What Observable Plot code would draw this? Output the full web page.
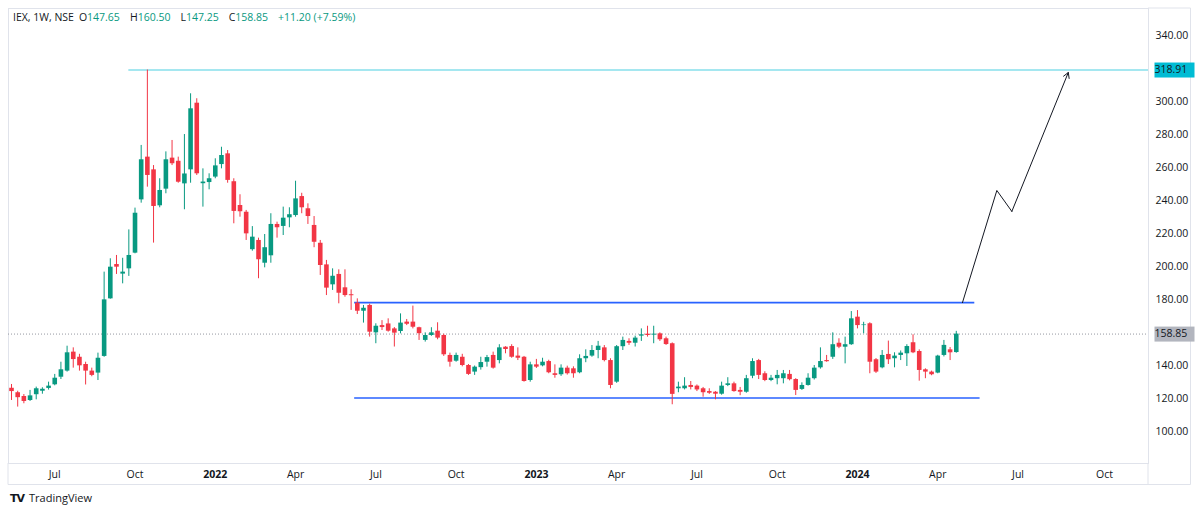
<!DOCTYPE html>
<html><head><meta charset="utf-8">
<script src="https://cdn.jsdelivr.net/npm/d3@7"></script>
<script src="https://cdn.jsdelivr.net/npm/@observablehq/plot@0.6"></script>
<style>
html,body{margin:0;padding:0;background:#fff;}
#wrap{position:relative;width:1200px;height:512px;font-family:"Open Sans",sans-serif;}
#hdr{position:absolute;left:13px;top:10px;font-size:10.5px;color:#131722;white-space:nowrap;}
#hdr span{margin-right:5px}
#hdr .v{color:#089981}
#logo{position:absolute;left:10px;top:490px;font-size:11px;color:#131722;white-space:nowrap;}
#logo b{font-weight:900;font-size:11px;letter-spacing:-1px;margin-right:5px;font-family:"DejaVu Sans",sans-serif}
svg{position:absolute;left:0;top:0}
</style></head><body>
<div id="wrap"><div id="hdr"></div><div id="logo"><b>TV</b>TradingView</div></div>
<script>
// ---- data ----
const symbolTitle = "IEX, 1W, NSE";
const firstWeek = "2021-05-17";
const opens = [126,123.3,121,118.6,122.1,124.2,125.9,128.1,132.7,136.4,147.9,144.8,140.4,136.4,135.2,145.3,180.2,201,195.2,198.4,
207.9,240.2,266.1,258.4,236.6,246.7,265.5,263.6,249.9,258.4,298.8,250,250.7,254,261.6,268.1,251.2,236.8,232.7,210,
215.6,201.8,206.3,225.3,224.1,229.3,230.7,242.2,234.8,224.7,213.9,200.8,188.7,195,186.9,182.7,177.6,172.7,176.2,159.6,
164,165,162,160.4,166.1,166.1,162.7,155,158,160.6,158,145.9,142.4,144.8,139.8,135.8,138.5,141.8,145.9,142.8,
150.9,151.3,145.5,144.8,130.7,140.2,139.6,142.2,134.8,134.2,138.2,137.8,135.4,143.9,145.5,148.9,150.5,142.8,129.7,151.2,
154.4,153.3,157.6,158.8,158.2,159,156,153,125.7,125.7,127.7,127.3,125.7,124,123.6,122.4,127.7,128.7,124.7,123.6,
133.3,142.8,134.8,130.7,131.8,131.8,134.4,131.3,125.3,127.7,131.8,138.4,142.8,144.8,153.3,150.9,152.4,169.1,164,165.1,
143.3,138.4,146.5,143.9,145.9,146.9,153.6,148.3,137.2,135.8,135.2,145.9,149.3,147.65];
const highs = [128.3,124.2,122.2,124.7,126.7,126.3,129.7,134.4,141.8,151.5,150.5,146.6,141.8,138.2,147.3,196.4,204.5,206.5,204.8,222,
235.2,273.2,318.91,261,253,269.3,276.2,266.1,279.8,304.5,301.5,259,256,265.1,272.1,270.1,253,243.3,233.8,224,
217,219.2,231.8,226.7,235.8,235.4,251.5,244.2,237.8,230.1,215.6,203.5,198.4,197.8,197.8,185.7,180.2,176.2,177,165.1,
167,168.1,162.8,171.1,167.7,175.8,163,159.6,162.7,165.7,158.8,147.3,147.3,146.6,140.4,139.5,144.8,145.9,147.9,152.4,
151.2,152.4,150.5,145.3,141.8,143.5,144.2,143,140.2,140.2,139.4,139,146.3,149.3,151.9,154.4,151.9,143.9,151.9,157,
156,157.6,162,163.6,163.6,159.6,157,153.5,129.7,132.4,130.1,128,126.5,125.7,124,129.7,132.4,129.7,126.5,133.8,
143.9,143.5,136,133.8,136.8,136.8,136.8,131.8,129.3,134.8,139.8,150.5,145.9,159.6,156,157,172.5,173.1,166,165.7,
144,148.9,154.6,147.5,148.6,152.4,158.4,149.3,137.8,136.4,146,155,150.7,160.5];
const lows = [118.6,114.6,116.6,118,119,122.4,124.9,127.5,131.3,135.8,138.2,136.4,128,133,130.7,144.8,180,195,189.3,193.8,
207.5,238.2,247.9,214,235.4,243.9,261,250.3,234.2,250.3,255,235.8,246.3,253,259,250.3,225.7,229.7,215.6,209.1,
192.4,199,201.8,217,218.6,223.3,229.7,231.8,225.3,211.2,194.4,182.2,185.3,177.2,181.2,173.2,170.7,165.5,157,153,
161,160,151,159,164,162,155,154,157.5,155.4,145.3,138.8,141.8,139,133.8,133.8,137,138.8,137.6,140.8,
146.9,144.2,142.8,129.7,129.7,138,139,134.8,132.1,133.2,134,132.1,134.8,141.5,144.8,143.9,142,125.7,129,148.9,
152,151,154.4,157,153,154.4,152,116,123.3,125,125,124,120.6,122.3,119,121.8,127,123.6,121.5,123,
131.8,131.3,130,130,128.1,128.7,130.5,121.6,124.7,127.3,131,137.6,141.8,143.5,150,140.8,152,162,159,134.8,
135,137.8,140.4,138.4,142.8,139.2,147,130.3,131.8,133.6,134.8,145,142.8,147.25];
const closes = [124,120.3,118,121.4,125.7,125.4,127.3,132.1,137.2,147.5,143.4,139.6,136.4,133.8,144.2,179.6,199.4,199.4,196.4,206.5,
232.1,264.5,255,236.2,245.9,264.5,262.1,250.9,255.9,295.4,256,251,253,260.8,267.1,252,233.2,233,219.6,217.6,
203.9,211.2,225.3,223.3,229.1,231.2,240.8,235.4,230.1,214.5,200.4,186.7,193.9,183.6,182.2,182.1,172.7,174.5,160,163.6,
162.8,160.6,159.4,165.5,164.8,163,159.1,158,159.6,156.4,146.3,141.8,145.9,139.8,134.4,138.8,141.6,144.6,138.2,150.5,
149.5,144.8,144.2,130.1,140.2,138.8,141.8,135.4,133.8,138.2,134.8,134.8,143.9,145.3,148.9,151.5,142.8,127.7,151.2,155,
153.3,156.4,158.4,158,158.8,155.4,152.5,122.3,126.7,127.3,126.5,125,123.3,123,122.4,127.3,128.7,124,123.6,131.8,
142.2,133.8,130.7,132.1,133.8,134.8,131.2,124.7,127.7,132.1,138.2,142.2,142.1,152.4,150.9,152.4,168.1,164,164.4,141.8,
135.8,145.9,143.3,145.5,147.3,151.3,147.5,136.8,135.8,134.2,145.5,152,147.5,158.85];
const priceTicks = [100,120,140,180,200,220,240,260,280,300,340];
const monthTickDates = ["2021-07-05","2021-10-04","2022-04-04","2022-07-04","2022-10-03","2023-04-03","2023-07-03","2023-10-02","2024-04-01","2024-07-01","2024-10-07"];
const monthTickLabels = ["Jul","Oct","Apr","Jul","Oct","Apr","Jul","Oct","Apr","Jul","Oct"];
const yearTickDates = ["2022-01-03","2023-01-02","2024-01-01"];
const yearTickLabels = ["2022","2023","2024"];
const rangeTop = 177.9, rangeBottom = 120.1;
const rangeStart = "2022-06-10", rangeTopEnd = "2024-05-13", rangeBottomEnd = "2024-05-19";
const highLevel = 318.91, highLevelStart = "2021-09-27";
const pathDates = ["2024-04-29","2024-06-07","2024-06-24"];
const pathValues = [177.9,245.9,233.2];
const arrowEndDate = "2024-08-27", arrowEndValue = 317.4;
const change = "+11.20 (+7.59%)";

// ---- build ----
const up = "#089981", down = "#F23645";
const candles = opens.map((o,i)=>({date:d3.utcMonday.offset(new Date(firstWeek),i),open:o,high:highs[i],low:lows[i],close:closes[i]}));
const last = candles[candles.length-1];
const col = d => d.close >= d.open ? up : down;
const D = s => new Date(s);
const xDomain = [new Date(Date.UTC(2021,4,13,14)), new Date(Date.UTC(2024,10,25,22))];
const monthMap = new Map(monthTickDates.map((d,i)=>[+D(d),monthTickLabels[i]]));
const yearMap = new Map(yearTickDates.map((d,i)=>[+D(d),yearTickLabels[i]]));
const pathPts = pathDates.map((d,i)=>({date:D(d),v:pathValues[i]}));
const arrowSeg = [{x1:D(pathDates[2]),y1:pathValues[2],x2:D(arrowEndDate),y2:arrowEndValue}];

const hdr = document.getElementById("hdr");
hdr.innerHTML = `<span>${symbolTitle}</span><span>O<span class="v">${last.open.toFixed(2)}</span></span><span>H<span class="v">${last.high.toFixed(2)}</span></span><span>L<span class="v">${last.low.toFixed(2)}</span></span><span>C<span class="v">${last.close.toFixed(2)}</span></span><span class="v">${change}</span>`;

const priceLabels = [{v:highLevel,fill:"#00bcd4"},{v:last.close,fill:"#b2b5be"}];

const chart = Plot.plot({
  width:1200, height:512,
  marginLeft:8, marginRight:52, marginTop:8, marginBottom:49,
  style:{fontFamily:"'Open Sans',sans-serif", background:"transparent"},
  x:{type:"utc", domain:xDomain},
  y:{domain:[80.4,356.2]},
  marks:[
    Plot.frame({stroke:"#e0e3eb"}),
    Plot.ruleY([last.close],{stroke:"#9598a1",strokeDasharray:"1,2"}),
    Plot.ruleY([highLevel],{x1:D(highLevelStart),x2:xDomain[1],stroke:"#4dd0e1",strokeWidth:1.2}),
    Plot.ruleY([rangeTop],{x1:D(rangeStart),x2:D(rangeTopEnd),stroke:"#2962ff",strokeWidth:1.6}),
    Plot.ruleY([rangeBottom],{x1:D(rangeStart),x2:D(rangeBottomEnd),stroke:"#2962ff",strokeWidth:1.6}),
    Plot.ruleX(candles,{x:"date",y1:"low",y2:"high",stroke:col,strokeWidth:1}),
    Plot.ruleX(candles,{x:"date",y1:"open",y2:"close",stroke:col,strokeWidth:4.6}),
    Plot.line(pathPts,{x:"date",y:"v",stroke:"#131722",strokeWidth:1}),
    Plot.arrow(arrowSeg,{x1:"x1",y1:"y1",x2:"x2",y2:"y2",stroke:"#131722",strokeWidth:1,headLength:9}),
    Plot.axisY(priceTicks,{anchor:"right",tickSize:0,tickPadding:7,tickFormat:d=>d.toFixed(2),fontSize:10.5,fill:"#131722",label:null}),
    Plot.axisX(monthTickDates.map(D),{tickSize:0,tickPadding:7,tickFormat:d=>monthMap.get(+d),fontSize:10.5,fill:"#131722",label:null}),
    Plot.axisX(yearTickDates.map(D),{tickSize:0,tickPadding:7,tickFormat:d=>yearMap.get(+d),fontSize:10.5,fontWeight:"bold",fill:"#131722",label:null}),
    Plot.text(priceLabels,{y:"v",frameAnchor:"right",dx:6,textAnchor:"start",text:d=>d.v.toFixed(2),fontSize:10.5,fill:"#131722",className:"pricelbl"})
  ]
});
document.getElementById("wrap").appendChild(chart);
const svg = d3.select(chart);
const sy = chart.scale("y");
// outer panel border
svg.insert("path",":first-child").attr("d","M1148,463V484.5H1190.5V8H1148M8,463V484.5H1148").attr("fill","none").attr("stroke","#e0e3eb");
// label boxes behind the price labels
const g = svg.select("g.pricelbl");
priceLabels.forEach(p=>{
  g.insert("rect",":first-child").attr("x",1148).attr("y",sy.apply(p.v)-7.5).attr("width",40).attr("height",15).attr("fill",p.fill);
});
</script></body></html>
